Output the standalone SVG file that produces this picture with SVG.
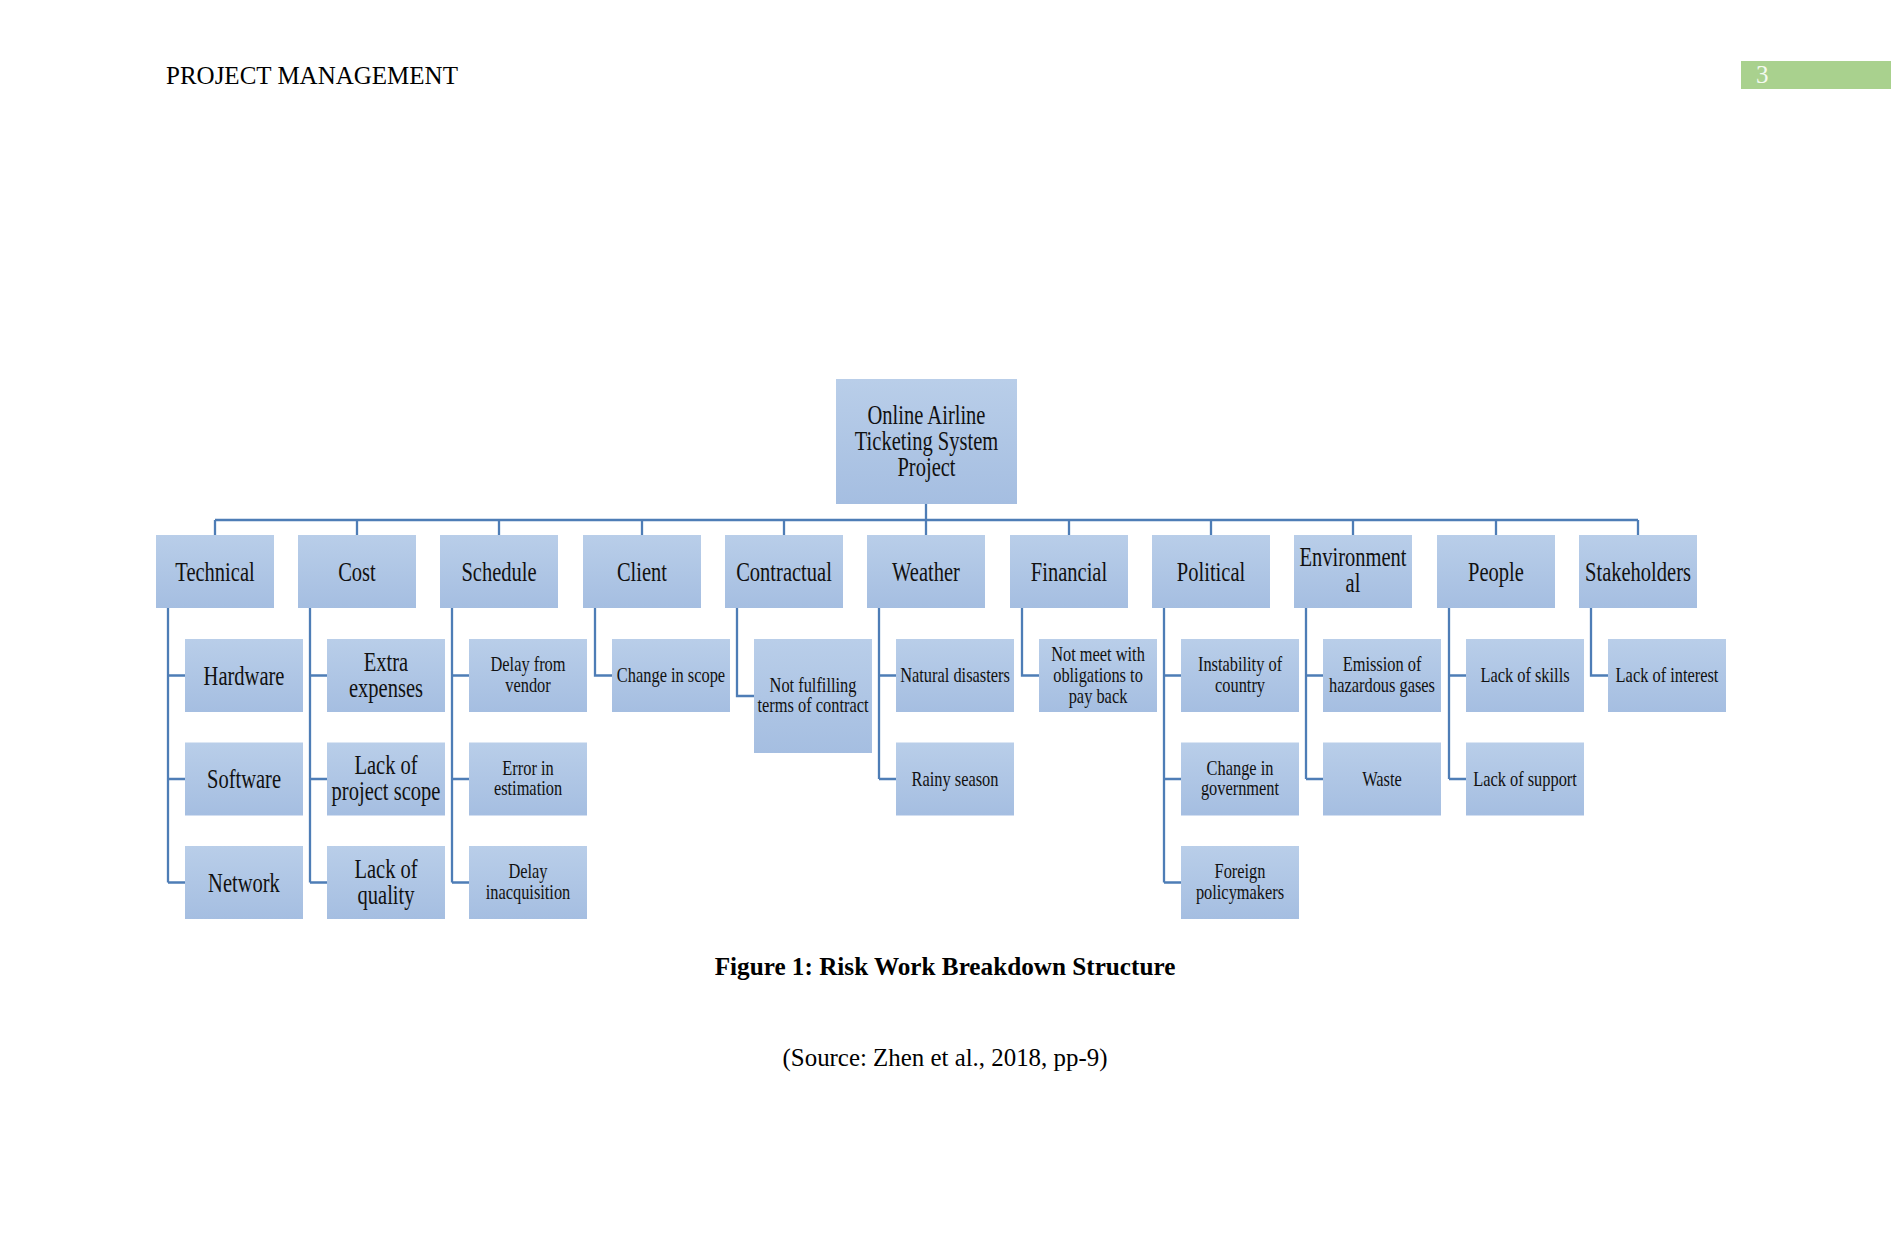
<svg xmlns="http://www.w3.org/2000/svg" width="1891" height="1241" viewBox="0 0 1891 1241">
<defs>
<linearGradient id="g" x1="0" y1="0" x2="0" y2="1">
<stop offset="0" stop-color="#b9cee9"/>
<stop offset="1" stop-color="#a5bee1"/>
</linearGradient>
</defs>
<style>
.box{fill:url(#g);}
.t{font-family:"Liberation Serif","Times New Roman",serif;fill:#111;text-anchor:middle;}
.L{font-size:27px;}
.S{font-size:20px;}
.con{fill:none;stroke:#4e7db6;stroke-width:2.3;}
.hdr{font-family:"Liberation Serif","Times New Roman",serif;font-size:25px;fill:#000;}
</style>
<rect width="1891" height="1241" fill="#fff"/>
<text class="hdr" x="166" y="83.5">PROJECT MANAGEMENT</text>
<rect x="1741" y="61" width="150" height="28" fill="#a9d18e"/>
<text class="hdr" x="1756" y="83" style="fill:#f4faf0">3</text>

<g id="connectors">
<path class="con" d="M926,504V520M215,520H1638M215,520V535M357,520V535M499,520V535M642,520V535M784,520V535M926,520V535M1069,520V535M1211,520V535M1353,520V535M1496,520V535M1638,520V535"/>
<path class="con" d="M168,608V882.5M168,675.5H185M168,779H185M168,882.5H185"/>
<path class="con" d="M310,608V882.5M310,675.5H327M310,779H327M310,882.5H327"/>
<path class="con" d="M452,608V882.5M452,675.5H469M452,779H469M452,882.5H469"/>
<path class="con" d="M595,608V675.5H612"/>
<path class="con" d="M737,608V696H754"/>
<path class="con" d="M879,608V779M879,675.5H896M879,779H896"/>
<path class="con" d="M1022,608V675.5H1039"/>
<path class="con" d="M1164,608V882.5M1164,675.5H1181M1164,779H1181M1164,882.5H1181"/>
<path class="con" d="M1306,608V779M1306,675.5H1323M1306,779H1323"/>
<path class="con" d="M1449,608V779M1449,675.5H1466M1449,779H1466"/>
<path class="con" d="M1591,608V675.5H1608"/>
</g>

<g id="root">
<rect class="box" x="836" y="379" width="181" height="125"/>
<text class="t L" transform="translate(926.5,441.5) scale(0.76,1)"><tspan x="0" y="-17.5">Online Airline</tspan><tspan x="0" y="8.5">Ticketing System</tspan><tspan x="0" y="34.5">Project</tspan></text>
</g>

<g id="technical"><rect class="box" x="156" y="535" width="118" height="73"/><text class="t L" transform="translate(215,571.5) scale(0.76,1)"><tspan x="0" y="9">Technical</tspan></text></g>
<g id="cost"><rect class="box" x="298" y="535" width="118" height="73"/><text class="t L" transform="translate(357,571.5) scale(0.76,1)"><tspan x="0" y="9">Cost</tspan></text></g>
<g id="schedule"><rect class="box" x="440" y="535" width="118" height="73"/><text class="t L" transform="translate(499,571.5) scale(0.76,1)"><tspan x="0" y="9">Schedule</tspan></text></g>
<g id="client"><rect class="box" x="583" y="535" width="118" height="73"/><text class="t L" transform="translate(642,571.5) scale(0.76,1)"><tspan x="0" y="9">Client</tspan></text></g>
<g id="contractual"><rect class="box" x="725" y="535" width="118" height="73"/><text class="t L" transform="translate(784,571.5) scale(0.76,1)"><tspan x="0" y="9">Contractual</tspan></text></g>
<g id="weather"><rect class="box" x="867" y="535" width="118" height="73"/><text class="t L" transform="translate(926,571.5) scale(0.76,1)"><tspan x="0" y="9">Weather</tspan></text></g>
<g id="financial"><rect class="box" x="1010" y="535" width="118" height="73"/><text class="t L" transform="translate(1069,571.5) scale(0.76,1)"><tspan x="0" y="9">Financial</tspan></text></g>
<g id="political"><rect class="box" x="1152" y="535" width="118" height="73"/><text class="t L" transform="translate(1211,571.5) scale(0.76,1)"><tspan x="0" y="9">Political</tspan></text></g>
<g id="environmental"><rect class="box" x="1294" y="535" width="118" height="73"/><text class="t L" transform="translate(1353,571.5) scale(0.76,1)"><tspan x="0" y="-5.5">Environment</tspan><tspan x="0" y="20.5">al</tspan></text></g>
<g id="people"><rect class="box" x="1437" y="535" width="118" height="73"/><text class="t L" transform="translate(1496,571.5) scale(0.76,1)"><tspan x="0" y="9">People</tspan></text></g>
<g id="stakeholders"><rect class="box" x="1579" y="535" width="118" height="73"/><text class="t L" transform="translate(1638,571.5) scale(0.76,1)"><tspan x="0" y="9">Stakeholders</tspan></text></g>

<g id="hardware"><rect class="box" x="185" y="639" width="118" height="73"/><text class="t L" transform="translate(244,675.5) scale(0.76,1)"><tspan x="0" y="9">Hardware</tspan></text></g>
<g id="software"><rect class="box" x="185" y="742.5" width="118" height="73"/><text class="t L" transform="translate(244,779) scale(0.76,1)"><tspan x="0" y="9">Software</tspan></text></g>
<g id="network"><rect class="box" x="185" y="846" width="118" height="73"/><text class="t L" transform="translate(244,882.5) scale(0.76,1)"><tspan x="0" y="9">Network</tspan></text></g>

<g id="extra-expenses"><rect class="box" x="327" y="639" width="118" height="73"/><text class="t L" transform="translate(386,675.5) scale(0.76,1)"><tspan x="0" y="-5">Extra</tspan><tspan x="0" y="21">expenses</tspan></text></g>
<g id="lack-project-scope"><rect class="box" x="327" y="742.5" width="118" height="73"/><text class="t L" transform="translate(386,779) scale(0.76,1)"><tspan x="0" y="-5">Lack of</tspan><tspan x="0" y="21">project scope</tspan></text></g>
<g id="lack-quality"><rect class="box" x="327" y="846" width="118" height="73"/><text class="t L" transform="translate(386,882.5) scale(0.76,1)"><tspan x="0" y="-5">Lack of</tspan><tspan x="0" y="21">quality</tspan></text></g>

<g id="delay-vendor"><rect class="box" x="469" y="639" width="118" height="73"/><text class="t S" transform="translate(528,675.5) scale(0.82,1)"><tspan x="0" y="-4.5">Delay from</tspan><tspan x="0" y="16">vendor</tspan></text></g>
<g id="error-estimation"><rect class="box" x="469" y="742.5" width="118" height="73"/><text class="t S" transform="translate(528,779) scale(0.82,1)"><tspan x="0" y="-4.5">Error in</tspan><tspan x="0" y="16">estimation</tspan></text></g>
<g id="delay-inacquisition"><rect class="box" x="469" y="846" width="118" height="73"/><text class="t S" transform="translate(528,882.5) scale(0.82,1)"><tspan x="0" y="-4.5">Delay</tspan><tspan x="0" y="16">inacquisition</tspan></text></g>

<g id="change-scope"><rect class="box" x="612" y="639" width="118" height="73"/><text class="t S" transform="translate(671,675.5) scale(0.82,1)"><tspan x="0" y="6.5">Change in scope</tspan></text></g>

<g id="not-fulfilling"><rect class="box" x="754" y="639" width="118" height="114"/><text class="t S" transform="translate(813,696) scale(0.82,1)"><tspan x="0" y="-4.5">Not fulfilling</tspan><tspan x="0" y="16">terms of contract</tspan></text></g>

<g id="natural-disasters"><rect class="box" x="896" y="639" width="118" height="73"/><text class="t S" transform="translate(955,675.5) scale(0.82,1)"><tspan x="0" y="6.5">Natural disasters</tspan></text></g>
<g id="rainy-season"><rect class="box" x="896" y="742.5" width="118" height="73"/><text class="t S" transform="translate(955,779) scale(0.82,1)"><tspan x="0" y="6.5">Rainy season</tspan></text></g>

<g id="not-meet"><rect class="box" x="1039" y="639" width="118" height="73"/><text class="t S" transform="translate(1098,675.5) scale(0.82,1)"><tspan x="0" y="-15">Not meet with</tspan><tspan x="0" y="6.5">obligations to</tspan><tspan x="0" y="27.5">pay back</tspan></text></g>

<g id="instability"><rect class="box" x="1181" y="639" width="118" height="73"/><text class="t S" transform="translate(1240,675.5) scale(0.82,1)"><tspan x="0" y="-4.5">Instability of</tspan><tspan x="0" y="16">country</tspan></text></g>
<g id="change-government"><rect class="box" x="1181" y="742.5" width="118" height="73"/><text class="t S" transform="translate(1240,779) scale(0.82,1)"><tspan x="0" y="-4.5">Change in</tspan><tspan x="0" y="16">government</tspan></text></g>
<g id="foreign-policymakers"><rect class="box" x="1181" y="846" width="118" height="73"/><text class="t S" transform="translate(1240,882.5) scale(0.82,1)"><tspan x="0" y="-4.5">Foreign</tspan><tspan x="0" y="16">policymakers</tspan></text></g>

<g id="emission"><rect class="box" x="1323" y="639" width="118" height="73"/><text class="t S" transform="translate(1382,675.5) scale(0.82,1)"><tspan x="0" y="-4.5">Emission of</tspan><tspan x="0" y="16">hazardous gases</tspan></text></g>
<g id="waste"><rect class="box" x="1323" y="742.5" width="118" height="73"/><text class="t S" transform="translate(1382,779) scale(0.82,1)"><tspan x="0" y="6.5">Waste</tspan></text></g>

<g id="lack-skills"><rect class="box" x="1466" y="639" width="118" height="73"/><text class="t S" transform="translate(1525,675.5) scale(0.82,1)"><tspan x="0" y="6.5">Lack of skills</tspan></text></g>
<g id="lack-support"><rect class="box" x="1466" y="742.5" width="118" height="73"/><text class="t S" transform="translate(1525,779) scale(0.82,1)"><tspan x="0" y="6.5">Lack of support</tspan></text></g>

<g id="lack-interest"><rect class="box" x="1608" y="639" width="118" height="73"/><text class="t S" transform="translate(1667,675.5) scale(0.82,1)"><tspan x="0" y="6.5">Lack of interest</tspan></text></g>

<text x="945" y="975" text-anchor="middle" font-family="Liberation Serif, Times New Roman, serif" font-size="25.2" font-weight="bold" fill="#000">Figure 1: Risk Work Breakdown Structure</text>
<text x="945" y="1066" text-anchor="middle" font-family="Liberation Serif, Times New Roman, serif" font-size="24.9" fill="#000">(Source: Zhen et al., 2018, pp-9)</text>
</svg>
